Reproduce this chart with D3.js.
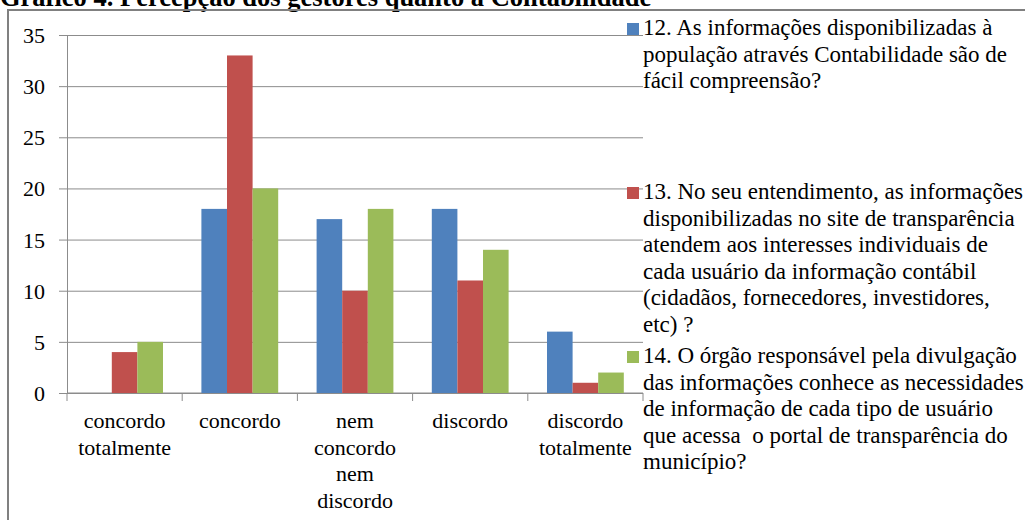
<!DOCTYPE html>
<html>
<head>
<meta charset="utf-8">
<script src="https://cdn.jsdelivr.net/npm/d3@7"></script>
<style>
  body { margin: 0; background: #fff; }
  svg { display: block; font-family: "Liberation Serif", "Times New Roman", serif; }
  .grid line { stroke: #8c8c8c; stroke-width: 1; }
  .grid path { display: none; }
  .y-axis path, .y-axis line { stroke: #8c8c8c; }
  .y-axis text { font-family: "Liberation Serif", "Times New Roman", serif; font-size: 22px; fill: #000; }
  .x-axis line { stroke: #8c8c8c; }
  .cat-label { font-size: 22px; fill: #000; }
  .legend text { font-size: 23px; fill: #000; }
  .title { font-size: 26.5px; font-weight: bold; fill: #000; }
</style>
</head>
<body>
<div id="chart"></div>
<script>
// data
var categories = ["concordo totalmente", "concordo", "nem concordo nem discordo", "discordo", "discordo totalmente"];
var categoryLines = [["concordo", "totalmente"], ["concordo"], ["nem", "concordo", "nem", "discordo"], ["discordo"], ["discordo", "totalmente"]];
var seriesKeys = ["q12", "q13", "q14"];
var q12 = [0, 18, 17, 18, 6];
var q13 = [4, 33, 10, 11, 1];
var q14 = [5, 20, 18, 14, 2];
var yTicks = [0, 5, 10, 15, 20, 25, 30, 35];
var legendLines = [
    ["12. As informações disponibilizadas à", "população através Contabilidade são de", "fácil compreensão?"],
    ["13. No seu entendimento, as informações", "disponibilizadas no site de transparência", "atendem aos interesses individuais de", "cada usuário da informação contábil", "(cidadãos, fornecedores, investidores,", "etc) ?"],
    ["14. O órgão responsável pela divulgação", "das informações conhece as necessidades", "de informação de cada tipo de usuário", "que acessa  o portal de transparência do", "município?"]
];
var titleText = "Gráfico 4. Percepção dos gestores quanto à Contabilidade";
var colors = ["#4f81bd", "#c0504d", "#9bbb59"];

var BarChart = function() {};

BarChart.prototype.create = function(el, options) {
    this.options = options;
    this.rows = categories.map(function(c, i) {
        return { cat: c, lines: categoryLines[i], q12: q12[i], q13: q13[i], q14: q14[i] };
    });

    this.root = d3.select(el).append("svg")
        .attr("width", options.width)
        .attr("height", options.height);

    // the title sits half above the page edge, as in the source picture
    this.root.append("text")
        .attr("class", "title")
        .attr("x", 0).attr("y", 6)
        .text(titleText);

    this.root.append("rect")
        .attr("x", 8).attr("y", 10)
        .attr("width", 1200).attr("height", 700)
        .attr("fill", "none")
        .attr("stroke", "#808080")
        .attr("stroke-width", 2);

    this.svg = this.root.append("g")
        .attr("transform", "translate(" + options.margin.left + "," + options.margin.top + ")");

    this._scales();
    this._axes();
    this._draw();
    this._legend();
    return this;
};

BarChart.prototype._scales = function() {
    var o = this.options;
    this.x0 = d3.scaleBand().domain(categories).range([0, o.plotWidth]).padding(0);
    this.x1 = d3.scaleBand().domain(seriesKeys).range([0, this.x0.bandwidth()])
        .paddingInner(0).paddingOuter(0.75);
    this.y = d3.scaleLinear().domain([0, 35]).range([o.plotHeight, 0]);
};

BarChart.prototype._axes = function() {
    var o = this.options, x0 = this.x0, y = this.y;

    this.svg.append("g").attr("class", "grid")
        .call(d3.axisLeft(y).tickValues(yTicks).tickSize(-o.plotWidth).tickFormat(""));

    this.svg.append("g").attr("class", "y-axis")
        .call(d3.axisLeft(y).tickValues(yTicks).tickSize(8).tickSizeOuter(0).tickPadding(14))
        .attr("font-family", null);
    this.svg.select(".y-axis").selectAll("text").attr("dy", "0.34em");

    var xa = this.svg.append("g").attr("class", "x-axis")
        .attr("transform", "translate(0," + o.plotHeight + ")");
    xa.append("line").attr("x1", 0).attr("x2", o.plotWidth);
    var bounds = categories.map(function(c) { return x0(c); }).concat([x0.range()[1]]);
    xa.selectAll(".xtick").data(bounds).enter().append("line")
        .attr("class", "xtick")
        .attr("x1", function(d) { return d; }).attr("x2", function(d) { return d; })
        .attr("y1", 0).attr("y2", 8);

    var labels = xa.selectAll(".cat-label").data(this.rows).enter().append("text")
        .attr("class", "cat-label")
        .attr("text-anchor", "middle")
        .attr("transform", function(d) { return "translate(" + (x0(d.cat) + x0.bandwidth() / 2) + ",35)"; });
    labels.selectAll("tspan").data(function(d) { return d.lines; }).enter().append("tspan")
        .attr("x", 0)
        .attr("y", function(d, i) { return i * 26.5; })
        .text(function(d) { return d; });
};

BarChart.prototype._draw = function() {
    var x0 = this.x0, x1 = this.x1, y = this.y;
    this.svg.selectAll(".group").data(this.rows).enter().append("g")
        .attr("class", "group")
        .attr("transform", function(d) { return "translate(" + x0(d.cat) + ",0)"; })
        .selectAll("rect")
        .data(function(d) { return seriesKeys.map(function(k, i) { return { key: k, value: d[k], i: i }; }); })
        .enter().append("rect")
        .attr("x", function(d) { return x1(d.key); })
        .attr("width", x1.bandwidth())
        .attr("y", function(d) { return y(d.value); })
        .attr("height", function(d) { return y(0) - y(d.value); })
        .attr("fill", function(d) { return colors[d.i]; });
};

BarChart.prototype._legend = function() {
    var lg = this.root.append("g").attr("class", "legend");
    var items = lg.selectAll("g").data(legendLines).enter().append("g")
        .attr("transform", function(d, i) { return "translate(627," + (35 + i * 164) + ")"; });
    items.append("rect")
        .attr("x", 0).attr("y", -12)
        .attr("width", 12).attr("height", 12)
        .attr("fill", function(d, i) { return colors[i]; });
    items.append("text")
        .selectAll("tspan").data(function(d) { return d; }).enter().append("tspan")
        .attr("x", 16)
        .attr("y", function(d, i) { return i * 26.6; })
        .attr("xml:space", "preserve")
        .text(function(d) { return d; });
};

new BarChart().create("#chart", {
    width: 1025,
    height: 520,
    margin: { left: 67, top: 35 },
    plotWidth: 576,
    plotHeight: 358
});
</script>
</body>
</html>
